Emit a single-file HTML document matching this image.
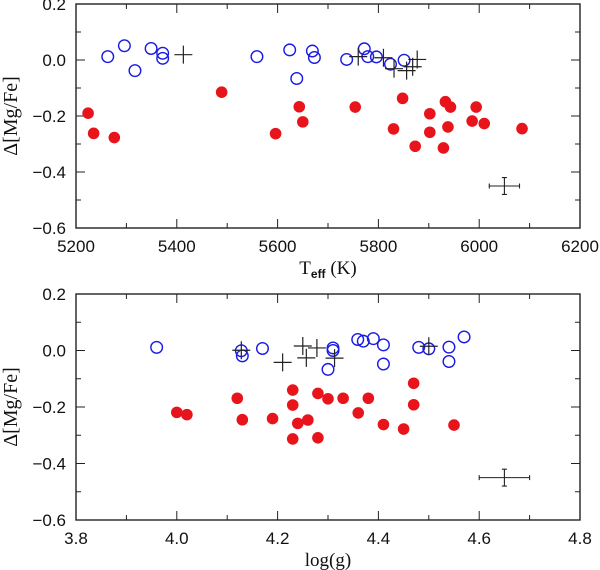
<!DOCTYPE html>
<html><head><meta charset="utf-8"><style>
html,body{margin:0;padding:0;background:#fff;}
svg{display:block;font-family:"Liberation Sans",sans-serif;}
</style></head><body>
<svg id="fig" width="600" height="570" viewBox="0 0 600 570"></svg>
<script>
// Top panel data: Teff vs Δ[Mg/Fe]
const topBlueX=[5263,5296,5317,5349,5372,5372,5559,5624,5638,5669,5673,5737,5772,5779,5796,5824,5851];
const topBlueY=[0.012,0.051,-0.038,0.041,0.024,0.006,0.012,0.036,-0.066,0.032,0.009,0.002,0.04,0.012,0.011,-0.015,-0.001];
const topCrossX=[5413,5760,5810,5831,5856,5868,5877];
const topCrossY=[0.019,0.012,0.008,-0.031,-0.038,-0.024,0.002];
const topRedX=[5224,5235,5276,5489,5596,5643,5650,5754,5848,5830,5873,5902,5902,5933,5943,5938,5929,5986,5994,6010,6085];
const topRedY=[-0.19,-0.262,-0.277,-0.115,-0.263,-0.167,-0.221,-0.168,-0.137,-0.246,-0.308,-0.192,-0.258,-0.149,-0.168,-0.239,-0.314,-0.218,-0.168,-0.227,-0.245];
const topErr=[6050,-0.45,30,0.03];
const topXTicks=["5200","5400","5600","5800","6000","6200"];
// Bottom panel data: log(g) vs Δ[Mg/Fe]
const botBlueX=[3.96,4.128,4.13,4.17,4.30,4.31,4.31,4.359,4.37,4.39,4.41,4.41,4.48,4.50,4.54,4.54,4.57];
const botBlueY=[0.011,-0.001,-0.019,0.007,-0.067,0.009,0.0,0.039,0.033,0.042,0.02,-0.048,0.011,0.006,0.012,-0.039,0.048];
const botCrossX=[4.128,4.21,4.25,4.257,4.278,4.313,4.50];
const botCrossY=[0.001,-0.042,0.016,-0.026,0.009,-0.027,0.015];
const botRedX=[4.0,4.02,4.12,4.13,4.19,4.23,4.23,4.23,4.24,4.26,4.28,4.28,4.30,4.33,4.36,4.38,4.41,4.45,4.47,4.47,4.55];
const botRedY=[-0.219,-0.227,-0.169,-0.245,-0.241,-0.14,-0.193,-0.313,-0.258,-0.246,-0.152,-0.309,-0.171,-0.169,-0.221,-0.169,-0.262,-0.278,-0.116,-0.192,-0.264];
const botErr=[4.65,-0.45,0.05,0.03];
const botXTicks=["3.8","4.0","4.2","4.4","4.6","4.8"];
const yTicks=["0.2","0.0","−0.2","−0.4","−0.6"];

const NS="http://www.w3.org/2000/svg";
const svg=document.getElementById('fig');
function mk(tag,attrs,parent){const e=document.createElementNS(NS,tag);for(const k in attrs)e.setAttribute(k,attrs[k]);(parent||svg).appendChild(e);return e;}

function panel(name,top,bottom,xmin,xmax,xminor,xTicks,xlabel,blueX,blueY,crossX,crossY,redX,redY,err){
  const L=76,R=580;
  const g=mk('g',{});
  
  
  const sx=v=>L+(v-xmin)/(xmax-xmin)*(R-L);
  const sy=v=>top+(0.2-v)/0.8*(bottom-top);
  const frame=mk('rect',{x:L,y:top,width:R-L,height:bottom-top,fill:'none',stroke:'#222','stroke-width':1.4},g);
  
  
  const nMinor=Math.round((xmax-xmin)/xminor);
  for(let i=0;i<=nMinor;i++){
    const x=sx(xmin+i*xminor);const major=i%2===0;const len=major?9:5;
    const t1=mk('line',{x1:x,y1:bottom,x2:x,y2:bottom-len,stroke:'#222','stroke-width':1},g);
    
    
    mk('line',{x1:x,y1:top,x2:x,y2:top+len,stroke:'#222','stroke-width':1},g);
  }
  xTicks.forEach((s,i)=>{
    const t=mk('text',{x:sx(xmin+i*2*xminor),y:bottom+24,'text-anchor':'middle','font-size':17,fill:'#111'},g);
    t.textContent=s;
    
    
  });
  for(let i=0;i<=8;i++){
    const v=0.2-i*0.1;const y=sy(v);const major=i%2===0;const len=major?9:5;
    const t1=mk('line',{x1:L,y1:y,x2:L+len,y2:y,stroke:'#222','stroke-width':1},g);
    
    
    mk('line',{x1:R,y1:y,x2:R-len,y2:y,stroke:'#222','stroke-width':1},g);
  }
  yTicks.forEach((s,i)=>{
    const t=mk('text',{x:L-10,y:sy(0.2-i*0.2)+6,'text-anchor':'end','font-size':17,fill:'#111'},g);
    t.textContent=s;
    
    
  });
  const yl=mk('text',{x:0,y:0,transform:`translate(17,${(top+bottom)/2}) rotate(-90)`,'text-anchor':'middle','font-size':20,fill:'#111','font-family':'Liberation Serif,serif'},g);
  yl.textContent='Δ[Mg/Fe]';
  
  
  const xl=mk('text',{x:(L+R)/2,y:bottom+46,'text-anchor':'middle','font-size':19,fill:'#111','font-family':'Liberation Serif,serif'},g);
  xl.innerHTML=xlabel;
  
  
  blueX.forEach((v,i)=>{
    const c=mk('circle',{cx:sx(v),cy:sy(blueY[i]),r:5.8,fill:'none',stroke:'#1a1ae6','stroke-width':1.4},g);
    
    
  });
  crossX.forEach((v,i)=>{
    const x=sx(v),y=sy(crossY[i]);
    const p=mk('path',{d:`M${x-9},${y}H${x+9}M${x},${y-9}V${y+9}`,stroke:'#222','stroke-width':1.2,fill:'none'},g);
    
    
  });
  redX.forEach((v,i)=>{
    const c=mk('circle',{cx:sx(v),cy:sy(redY[i]),r:5.8,fill:'#e8141c'},g);
    
    
  });
  const ex=sx(err[0]),ey=sy(err[1]),ex1=sx(err[0]-err[2]),ex2=sx(err[0]+err[2]),ey1=sy(err[1]+err[3]),ey2=sy(err[1]-err[3]);
  const eb=mk('path',{d:`M${ex1},${ey}H${ex2}M${ex1},${ey-2.5}V${ey+2.5}M${ex2},${ey-2.5}V${ey+2.5}M${ex},${ey1}V${ey2}M${ex-2.5},${ey1}H${ex+2.5}M${ex-2.5},${ey2}H${ex+2.5}`,stroke:'#222','stroke-width':1.1,fill:'none'},g);
  
  
}
panel('teff-panel',4,228,5200,6200,100,topXTicks,'T<tspan font-size="12" dy="4" font-family="Liberation Sans,sans-serif" font-weight="bold">eff</tspan><tspan dy="-4"> (K)</tspan>',topBlueX,topBlueY,topCrossX,topCrossY,topRedX,topRedY,topErr);
panel('logg-panel',294,520,3.8,4.8,0.1,botXTicks,'log(g)',botBlueX,botBlueY,botCrossX,botCrossY,botRedX,botRedY,botErr);
</script>
</body></html>
